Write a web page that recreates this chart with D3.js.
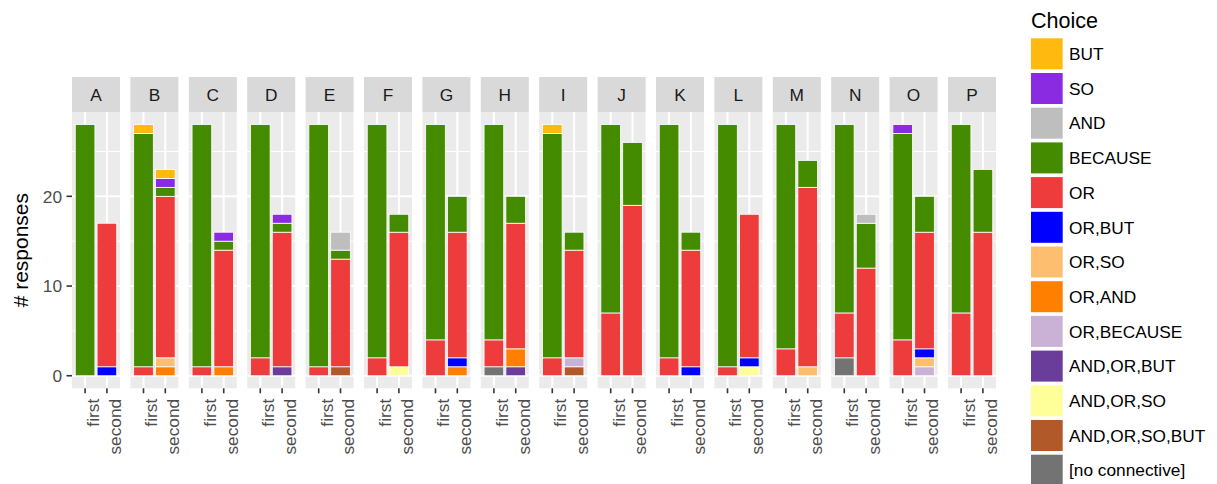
<!DOCTYPE html>
<html>
<head>
<meta charset="utf-8">
<script src="https://cdn.jsdelivr.net/npm/d3@7"></script>
<style>
  html, body { margin: 0; padding: 0; background: #ffffff; }
  svg { display: block; font-family: "Liberation Sans", Arial, Helvetica, sans-serif; }
</style>
</head>
<body>
<svg id="chart" width="1217" height="484"></svg>
<script>
// ---------------- DATA ----------------
const panels = ["A","B","C","D","E","F","G","H","I","J","K","L","M","N","O","P"];
const conditions = ["first","second"];
const choices = ["BUT","SO","AND","BECAUSE","OR","OR,BUT","OR,SO","OR,AND","OR,BECAUSE",
                 "AND,OR,BUT","AND,OR,SO","AND,OR,SO,BUT","[no connective]"];
const choiceColors = ["#FFB90F","#8A2BE2","#BEBEBE","#458B00","#EE3B3B","#0000FF","#FDBF6F",
                      "#FF7F00","#CAB2D6","#6A3D9A","#FFFF99","#B15928","#737373"];
const yTicks = [0, 10, 20];

// counts per choice, ordered A-first, A-second, B-first, B-second, ... P-second
const BUT          = [0,0, 1,1, 0,0, 0,0, 0,0, 0,0, 0,0, 0,0, 1,0, 0,0, 0,0, 0,0, 0,0, 0,0, 0,0, 0,0];
const SO           = [0,0, 0,1, 0,1, 0,1, 0,0, 0,0, 0,0, 0,0, 0,0, 0,0, 0,0, 0,0, 0,0, 0,0, 1,0, 0,0];
const AND          = [0,0, 0,0, 0,0, 0,0, 0,2, 0,0, 0,0, 0,0, 0,0, 0,0, 0,0, 0,0, 0,0, 0,1, 0,0, 0,0];
const BECAUSE      = [28,0, 26,1, 27,1, 26,1, 27,1, 26,2, 24,4, 24,3, 25,2, 21,7, 26,2, 27,0, 25,3, 21,5, 23,4, 21,7];
const OR           = [0,16, 1,18, 1,13, 2,15, 1,12, 2,15, 4,14, 3,14, 2,12, 7,19, 2,13, 1,16, 3,20, 5,12, 4,13, 7,16];
const OR_BUT       = [0,1, 0,0, 0,0, 0,0, 0,0, 0,0, 0,1, 0,0, 0,0, 0,0, 0,1, 0,1, 0,0, 0,0, 0,1, 0,0];
const OR_SO        = [0,0, 0,1, 0,0, 0,0, 0,0, 0,0, 0,0, 0,0, 0,0, 0,0, 0,0, 0,0, 0,1, 0,0, 0,1, 0,0];
const OR_AND       = [0,0, 0,1, 0,1, 0,0, 0,0, 0,0, 0,1, 0,2, 0,0, 0,0, 0,0, 0,0, 0,0, 0,0, 0,0, 0,0];
const OR_BECAUSE   = [0,0, 0,0, 0,0, 0,0, 0,0, 0,0, 0,0, 0,0, 0,1, 0,0, 0,0, 0,0, 0,0, 0,0, 0,1, 0,0];
const AND_OR_BUT   = [0,0, 0,0, 0,0, 0,1, 0,0, 0,0, 0,0, 0,1, 0,0, 0,0, 0,0, 0,0, 0,0, 0,0, 0,0, 0,0];
const AND_OR_SO    = [0,0, 0,0, 0,0, 0,0, 0,0, 0,1, 0,0, 0,0, 0,0, 0,0, 0,0, 0,1, 0,0, 0,0, 0,0, 0,0];
const AND_OR_SO_BUT= [0,0, 0,0, 0,0, 0,0, 0,1, 0,0, 0,0, 0,0, 0,1, 0,0, 0,0, 0,0, 0,0, 0,0, 0,0, 0,0];
const NO_CONN      = [0,0, 0,0, 0,0, 0,0, 0,0, 0,0, 0,0, 1,0, 0,0, 0,0, 0,0, 0,0, 0,0, 2,0, 0,0, 0,0];

const seriesValues = [BUT, SO, AND, BECAUSE, OR, OR_BUT, OR_SO, OR_AND, OR_BECAUSE,
                      AND_OR_BUT, AND_OR_SO, AND_OR_SO_BUT, NO_CONN];

// ---------------- BUILD TABLE ----------------
const rows = [];
panels.forEach((p, pi) => conditions.forEach((c, ci) => {
  const r = { panel: p, cond: c };
  choices.forEach((ch, k) => { r[ch] = seriesValues[k][pi * 2 + ci]; });
  rows.push(r);
}));
// ggplot stacks the last level at the bottom
const stackKeys = choices.slice().reverse();
const stacked = d3.stack().keys(stackKeys)(rows);

// ---------------- LAYOUT ----------------
const svg = d3.select("#chart");
const panelTop = 112, panelBottom = 388.3, stripTop = 77;
const textSize = 17.3;
const px = d3.scaleBand().domain(panels).range([72, 996]).paddingInner(0.178).paddingOuter(0);
const bw = px.bandwidth();
const xInner = d3.scaleLinear().domain([0.4, 2.6]).range([0, bw]);
const condPos = { first: 1, second: 2 };
const y = d3.scaleLinear().domain([-1.4, 29.4]).range([panelBottom, panelTop]);
const color = d3.scaleOrdinal().domain(choices).range(choiceColors);
const minorTicks = [5, 15, 25];

const gPanels = svg.append("g");
panels.forEach(p => {
  const g = gPanels.append("g").attr("transform", `translate(${px(p)},0)`);
  // strip
  g.append("rect").attr("x", 0).attr("y", stripTop).attr("width", bw).attr("height", panelTop - stripTop)
    .attr("fill", "#D9D9D9");
  g.append("text").attr("x", bw / 2).attr("y", (stripTop + panelTop) / 2).attr("dy", "0.36em")
    .attr("text-anchor", "middle").attr("fill", "#1A1A1A").attr("font-size", textSize).text(p);
  // background
  g.append("rect").attr("x", 0).attr("y", panelTop).attr("width", bw).attr("height", panelBottom - panelTop)
    .attr("fill", "#EBEBEB");
  // minor grid
  g.selectAll("line.minor").data(minorTicks).join("line")
    .attr("x1", 0).attr("x2", bw).attr("y1", d => y(d)).attr("y2", d => y(d))
    .attr("stroke", "#ffffff").attr("stroke-width", 1);
  // major grid
  g.selectAll("line.majorY").data(yTicks).join("line")
    .attr("x1", 0).attr("x2", bw).attr("y1", d => y(d)).attr("y2", d => y(d))
    .attr("stroke", "#ffffff").attr("stroke-width", 2);
  g.selectAll("line.majorX").data(conditions).join("line")
    .attr("x1", d => xInner(condPos[d])).attr("x2", d => xInner(condPos[d]))
    .attr("y1", panelTop).attr("y2", panelBottom)
    .attr("stroke", "#ffffff").attr("stroke-width", 2);
  // x ticks + labels
  conditions.forEach(c => {
    const cx = xInner(condPos[c]);
    g.append("line").attr("x1", cx).attr("x2", cx).attr("y1", panelBottom).attr("y2", panelBottom + 5)
      .attr("stroke", "#333333").attr("stroke-width", 1.6);
    g.append("text").attr("transform", `translate(${cx},${panelBottom + 10.5}) rotate(-90)`)
      .attr("text-anchor", "end").attr("dy", 13.8).attr("fill", "#4D4D4D").attr("font-size", textSize)
      .text(c);
  });
});

// bars
const barW = xInner(0.9) - xInner(0);
stacked.forEach(layer => {
  const ch = layer.key;
  gPanels.append("g").selectAll("rect").data(layer.filter(d => d[1] - d[0] > 0)).join("rect")
    .attr("x", d => px(d.data.panel) + xInner(condPos[d.data.cond] - 0.45))
    .attr("width", barW)
    .attr("y", d => y(d[1]))
    .attr("height", d => y(d[0]) - y(d[1]))
    .attr("fill", color(ch))
    .attr("stroke", "#ffffff").attr("stroke-width", 0.8);
});

// y axis (left of first panel)
const yAxisG = svg.append("g");
yTicks.forEach(t => {
  yAxisG.append("line").attr("x1", 66.5).attr("x2", 72).attr("y1", y(t)).attr("y2", y(t))
    .attr("stroke", "#333333").attr("stroke-width", 1.6);
  yAxisG.append("text").attr("x", 62).attr("y", y(t)).attr("dy", "0.36em").attr("text-anchor", "end")
    .attr("fill", "#4D4D4D").attr("font-size", textSize).text(t);
});
svg.append("text").attr("transform", `translate(28,${(panelTop + panelBottom) / 2}) rotate(-90)`)
  .attr("text-anchor", "middle").attr("fill", "#000000").attr("font-size", 21).text("# responses");

// legend
const lg = svg.append("g");
lg.append("text").attr("x", 1031).attr("y", 28).attr("font-size", 21.5).attr("fill", "#000").text("Choice");
choices.forEach((ch, i) => {
  const ky = 38.3 + i * 34.7;
  lg.append("rect").attr("x", 1031).attr("y", ky).attr("width", 31.7).attr("height", 31)
    .attr("fill", color(ch));
  lg.append("text").attr("x", 1069).attr("y", ky + 15.5).attr("dy", "0.36em")
    .attr("font-size", textSize).attr("fill", "#000").text(ch);
});
</script>
</body>
</html>
